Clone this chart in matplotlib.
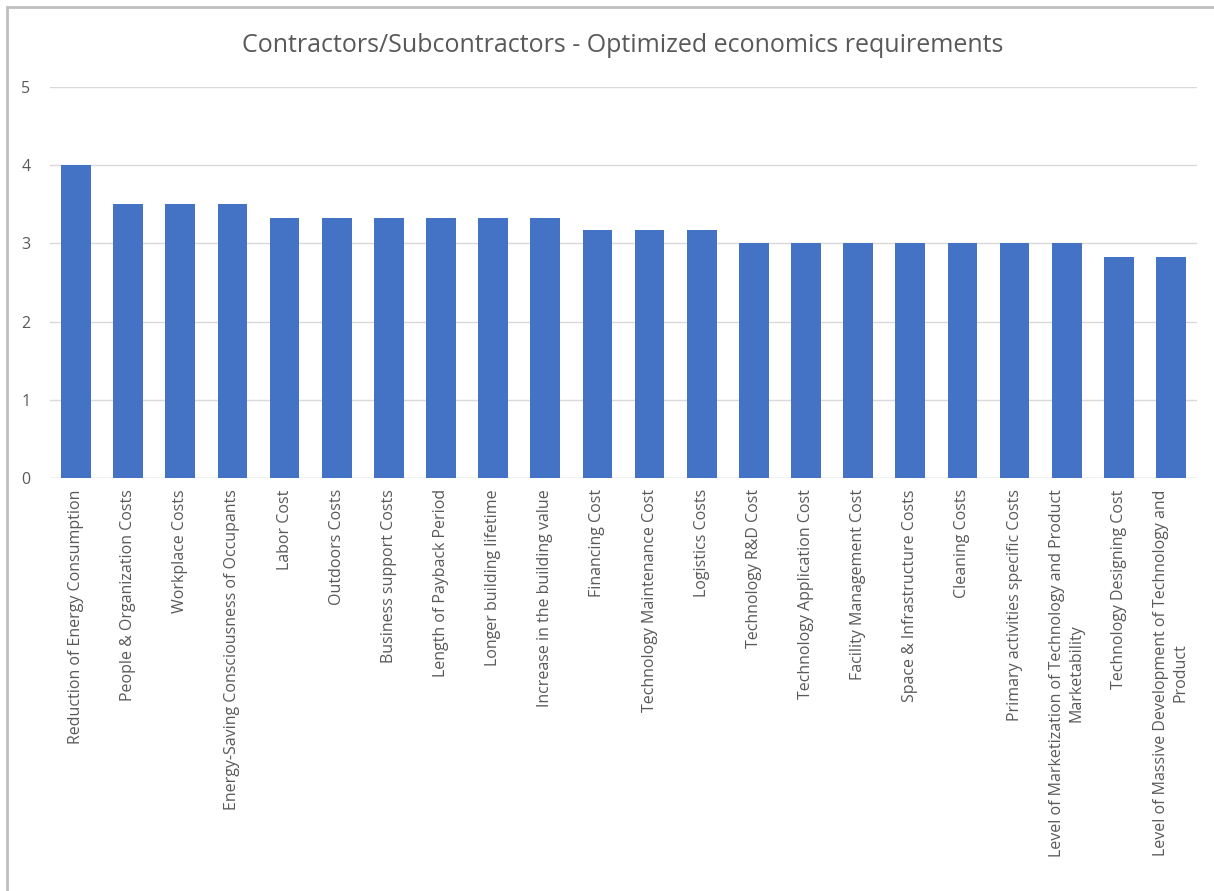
import matplotlib
matplotlib.use("Agg")
import numpy as np
from matplotlib import pyplot as plt
from matplotlib.patches import Rectangle

# dados
categorias = [
    "Reduction of Energy Consumption",
    "People & Organization Costs",
    "Workplace Costs",
    "Energy-Saving Consciousness of Occupants",
    "Labor Cost",
    "Outdoors Costs",
    "Business support Costs",
    "Length of Payback Period",
    "Longer building lifetime",
    "Increase in the building value",
    "Financing Cost",
    "Technology Maintenance Cost",
    "Logistics Costs",
    "Technology R&D Cost",
    "Technology Application Cost",
    "Facility Management Cost",
    "Space & Infrastructure Costs",
    "Cleaning Costs",
    "Primary activities specific Costs",
    "Level of Marketization of Technology and Product\nMarketability",
    "Technology Designing Cost",
    "Level of Massive Development of Technology and\nProduct",
]
valores = [4.0, 3.5, 3.5, 3.5, 3.33, 3.33, 3.33, 3.33, 3.33, 3.33,
           3.17, 3.17, 3.17, 3.0, 3.0, 3.0, 3.0, 3.0, 3.0, 3.0, 2.83, 2.83]
yticks = [0, 1, 2, 3, 4, 5]

plt.rcParams['font.family'] = ['Open Sans', 'DejaVu Sans']
cinza = "#595959"

fig = plt.figure(figsize=(12.14, 8.91), dpi=100)
ax = fig.add_axes([0.0412, 0.4635, 0.9448, 0.4388])

x = np.arange(len(categorias))
ax.bar(x, valores, width=0.57, color="#4472C4", zorder=3)

ax.set_xlim(-0.5, len(categorias) - 0.5)
ax.set_ylim(0, 5)
ax.set_yticks(yticks)
ax.set_yticklabels([str(v) for v in yticks], color=cinza, fontsize=11.5)
ax.set_xticks(x)
ax.set_xticklabels(categorias, rotation=90, ha="center", va="top",
                   multialignment="center", color=cinza, fontsize=11.5,
                   linespacing=1.3)
ax.tick_params(axis="both", length=0)
ax.tick_params(axis="x", pad=8)
ax.tick_params(axis="y", pad=14)
ax.grid(axis="y", color="#D9D9D9", linewidth=1, zorder=0)
for s in ax.spines.values():
    s.set_visible(False)
ax.axhline(0, color="#D9D9D9", linewidth=1, zorder=2)

fig.text(0.5127, 0.949, "Contractors/Subcontractors - Optimized economics requirements",
         ha="center", va="center", fontsize=18, color=cinza)

# moldura do grafico
fig.patches.append(Rectangle((7 / 1214, -0.05), 1.1, 1 - 7 / 891 + 0.05,
                             transform=fig.transFigure, fill=False,
                             edgecolor="#BFBFBF", linewidth=2))

fig.savefig("out.png", dpi=100)
